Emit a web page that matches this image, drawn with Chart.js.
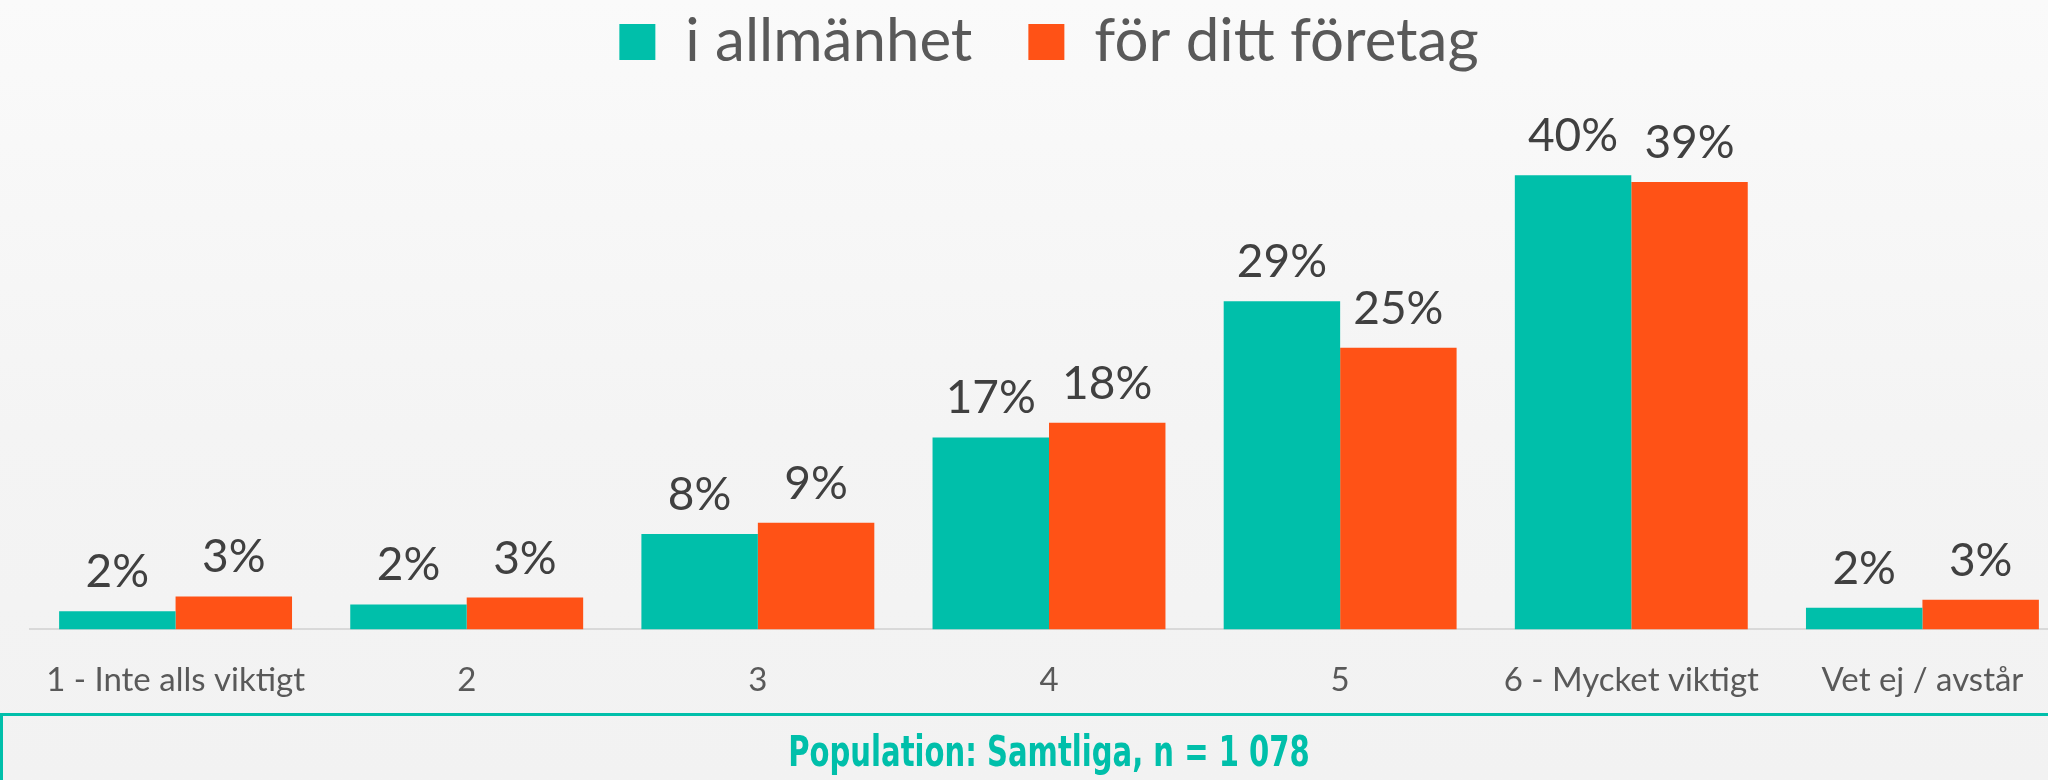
<!DOCTYPE html>
<html>
<head>
<meta charset="utf-8">
<script src="https://cdn.jsdelivr.net/npm/chart.js@4"></script>
<style>
  html, body { margin: 0; padding: 0; }
  body {
    width: 2048px; height: 780px; overflow: hidden; position: relative;
    background: linear-gradient(to bottom, #fafafa 0%, #f4f4f4 55%, #f2f2f2 100%);
  }
  #wrap { position: absolute; left: 0; top: 0; width: 2068px; height: 731px; }
  #box {
    position: absolute; left: 0; top: 713px; width: 2100px; height: 120px;
    border-top: 3px solid #00BFAA; border-left: 3px solid #00BFAA;
    box-sizing: border-box;
  }
  #pop {
    position: absolute; left: 0; top: 727px; width: 2098px; text-align: center;
    font-family: "DejaVu Sans Condensed", "DejaVu Sans", sans-serif;
    font-weight: bold; font-size: 42px; color: #00BFAA;
    transform: scaleX(0.77); transform-origin: 1049px 0;
  }
</style>
</head>
<body>
<div id="wrap"><canvas id="chart" width="2068" height="731"></canvas></div>
<div id="box"></div>
<div id="pop">Population: Samtliga, n = 1 078</div>
<script>
  // categories and series (percent)
  const categories = ['1 - Inte alls viktigt', '2', '3', '4', '5', '6 - Mycket viktigt', 'Vet ej / avstår'];
  const generalValues = [1.6, 2.2, 8.4, 16.9, 28.9, 40.0, 1.9];
  const companyValues = [2.9, 2.8, 9.4, 18.2, 24.8, 39.4, 2.6];
  const seriesNames = ['i allmänhet', 'för ditt företag'];

  // draws the value labels above each bar
  const barLabels = {
    id: 'barLabels',
    afterDatasetsDraw(chart) {
      const ctx = chart.ctx;
      ctx.save();
      ctx.font = '46px Lato';
      ctx.fillStyle = '#404040';
      ctx.textAlign = 'center';
      ctx.textBaseline = 'alphabetic';
      chart.data.datasets.forEach((ds, i) => {
        chart.getDatasetMeta(i).data.forEach((bar, j) => {
          ctx.fillText(Math.round(ds.data[j]) + '%', bar.x, bar.y - 24);
        });
      });
      ctx.restore();
    }
  };

  const ctx = document.getElementById('chart').getContext('2d');
  new Chart(ctx, {
    type: 'bar',
    data: {
      labels: categories,
      datasets: [
        { label: seriesNames[0], data: generalValues, backgroundColor: '#00BFAA', barPercentage: 1, categoryPercentage: 0.8 },
        { label: seriesNames[1], data: companyValues, backgroundColor: '#FF5216', barPercentage: 1, categoryPercentage: 0.8 }
      ]
    },
    options: {
      responsive: false,
      devicePixelRatio: 1,
      animation: false,
      layout: { padding: { left: 30, right: 0, top: -44, bottom: 0 } },
      plugins: {
        legend: {
          position: 'top',
          labels: {
            boxWidth: 36, boxHeight: 36, padding: 56,
            color: '#595959',
            font: { family: 'Lato', size: 60 }
          }
        },
        tooltip: { enabled: false }
      },
      scales: {
        x: {
          grid: { display: false, drawTicks: false },
          border: { display: true, color: '#d9d9d9', width: 2 },
          ticks: { color: '#595959', font: { family: 'Lato', size: 33 }, padding: 31, maxRotation: 0 }
        },
        y: {
          display: false,
          min: 0, max: 48.2
        }
      }
    },
    plugins: [barLabels]
  });
</script>
</body>
</html>
